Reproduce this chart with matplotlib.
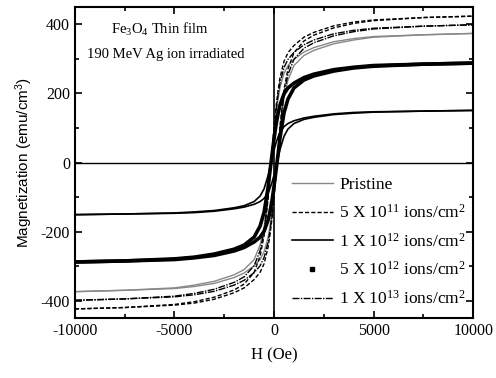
import matplotlib
matplotlib.use("Agg")
import matplotlib.pyplot as plt
from matplotlib.lines import Line2D
from matplotlib.ticker import MultipleLocator

plt.rcParams['font.family'] = ['Liberation Serif', 'DejaVu Serif']
plt.rcParams['mathtext.fontset'] = 'custom'
plt.rcParams['mathtext.rm'] = 'Liberation Serif'
plt.rcParams['mathtext.default'] = 'regular'
plt.rcParams['axes.unicode_minus'] = False

# field values (Oe), shared by all loops
H = [-10000, -7500, -5000, -4000, -3000, -2000, -1500, -1000, -700, -500, -300, -200, -100, 0,
     100, 200, 300, 500, 700, 1000, 1500, 2000, 3000, 4000, 5000, 7500, 10000]

# descending (dn) and ascending (up) branches, emu/cm^3
pristine_dn = [-374, -370, -363, -355, -344, -325, -310, -281, -239, -187, -94, -30, 30, 90,
               142, 183, 217, 258, 281, 299, 320, 333, 350, 359, 365, 370, 374]
pristine_up = [-374, -370, -365, -359, -350, -333, -320, -299, -281, -258, -217, -183, -142, -90,
               -30, 30, 94, 187, 239, 281, 310, 325, 344, 355, 363, 370, 374]

f5e11_dn = [-424, -420, -411, -403, -390, -369, -352, -318, -271, -212, -106, -34, 34, 102,
            161, 208, 246, 293, 318, 339, 363, 377, 396, 407, 413, 420, 424]
f5e11_up = [-424, -420, -413, -407, -396, -377, -363, -339, -318, -293, -246, -208, -161, -102,
            -34, 34, 106, 212, 271, 318, 352, 369, 390, 403, 411, 420, 424]

f1e12_dn = [-151, -149, -146, -143, -139, -131, -125, -113, -97, -76, -38, -12, 12, 36,
            57, 74, 88, 104, 113, 121, 129, 134, 141, 145, 147, 149, 151]
f1e12_up = [-151, -149, -147, -145, -141, -134, -129, -121, -113, -104, -88, -74, -57, -36,
            -12, 12, 38, 76, 97, 113, 125, 131, 139, 143, 146, 149, 151]

f5e12_dn = [-288, -285, -279, -274, -265, -251, -239, -216, -184, -144, -72, -23, 23, 69,
            109, 141, 167, 199, 216, 230, 246, 256, 269, 276, 281, 285, 288]
f5e12_up = [-288, -285, -281, -276, -269, -256, -246, -230, -216, -199, -167, -141, -109, -69,
            -23, 23, 72, 144, 184, 216, 239, 251, 265, 274, 279, 285, 288]

f1e13_dn = [-399, -395, -387, -379, -367, -347, -331, -299, -255, -200, -100, -32, 32, 96,
            152, 196, 231, 275, 299, 319, 341, 355, 373, 383, 389, 395, 399]
f1e13_up = [-399, -395, -389, -383, -373, -355, -341, -319, -299, -275, -231, -196, -152, -96,
            -32, 32, 100, 200, 255, 299, 331, 347, 367, 379, 387, 395, 399]

labels = ['Pristine',
          '5 X 10$^{11}$ ions/cm$^{2}$',
          '1 X 10$^{12}$ ions/cm$^{2}$',
          '5 X 10$^{12}$ ions/cm$^{2}$',
          '1 X 10$^{13}$ ions/cm$^{2}$']

fig = plt.figure(figsize=(4.96, 3.78), dpi=100)
ax = fig.add_axes([0.151, 0.159, 0.803, 0.822])

ax.axhline(0, color='black', lw=1)
ax.axvline(0, color='black', lw=1.2)

for br in (pristine_dn, pristine_up):
    ax.plot(H, br, color='#888888', lw=1)
for br in (f5e11_dn, f5e11_up):
    ax.plot(H, br, color='black', lw=1, dashes=(3, 1.5))
for br in (f1e12_dn, f1e12_up):
    ax.plot(H, br, color='black', lw=1.2)
for br in (f5e12_dn, f5e12_up):
    ax.plot(H, br, color='black', lw=2.6)
for br in (f1e13_dn, f1e13_up):
    ax.plot(H, br, color='black', lw=1, dashes=(5, 1, 1, 1))

ax.set_xlim(-10000, 10000)
ax.set_ylim(-450, 450)
ax.xaxis.set_major_locator(MultipleLocator(5000))
ax.xaxis.set_minor_locator(MultipleLocator(2500))
ax.yaxis.set_major_locator(MultipleLocator(200))
ax.yaxis.set_minor_locator(MultipleLocator(100))
ax.tick_params(which='both', direction='in', top=True, right=True, labelsize=11.5, width=1.2)
ax.tick_params(which='major', length=5)
ax.tick_params(which='minor', length=3)
for s in ax.spines.values():
    s.set_linewidth(1.5)

ax.set_xlabel('H (Oe)', fontsize=12, labelpad=6)
ax.set_ylabel('Magnetization (emu/cm$^{3}$)', fontsize=11, family=['Liberation Sans', 'DejaVu Sans'])

ax.text(0.09, 0.915, 'Fe$_{3}$O$_{4}$ Thin film', transform=ax.transAxes, fontsize=10.5)
ax.text(0.03, 0.835, '190 MeV Ag ion irradiated', transform=ax.transAxes, fontsize=10.5)

handles = [
    Line2D([], [], color='#888888', lw=1),
    Line2D([], [], color='black', lw=1, dashes=(3, 1.5)),
    Line2D([], [], color='black', lw=1.2),
    Line2D([], [], color='black', ls='none', marker='s', markersize=2.5),
    Line2D([], [], color='black', lw=1, dashes=(5, 1, 1, 1)),
]
ax.legend(handles, labels, loc='lower right', bbox_to_anchor=(1.0, 0.01), frameon=False,
          fontsize=12.5, handlelength=2.4, handletextpad=0.35, labelspacing=0.62, borderaxespad=0)

fig.savefig('out.png', dpi=100)
